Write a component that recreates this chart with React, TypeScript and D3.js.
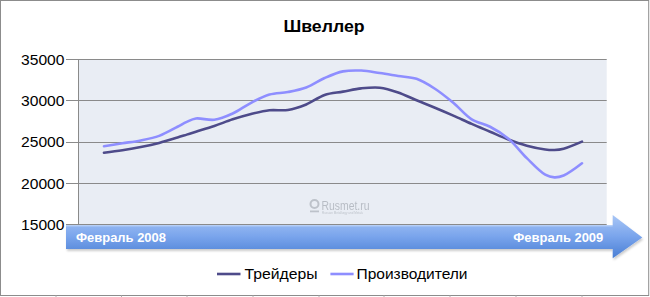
import React from "react";
import * as d3 from "d3";

const TITLE = "Швеллер";
const SERIES_NAMES = ["Трейдеры", "Производители"];
const X_LABELS = ["Февраль 2008", "Февраль 2009"];
const Y_TICKS = [15000, 20000, 25000, 30000, 35000];
// week index from Feb 2008 (0) to Feb 2009 (52)
const WEEKS = [0, 2, 4, 6, 8, 9, 10, 12, 14, 16, 18, 20, 22, 24, 26, 28, 30, 32, 34, 36, 38, 40, 42, 44, 46, 48, 49, 50, 52];
const TRADERS = [23660, 23950, 24350, 24850, 25500, 25850, 26200, 26900, 27700, 28350, 28800, 28830, 29500, 30650, 31050, 31450, 31530, 30950, 30000, 29100, 28150, 27150, 26200, 25250, 24500, 24050, 23990, 24150, 25000];
const PRODUCERS = [24450, 24800, 25150, 25700, 26800, 27400, 27800, 27650, 28400, 29700, 30700, 31000, 31550, 32700, 33500, 33600, 33300, 32950, 32600, 31400, 29700, 27700, 26800, 25350, 23000, 21000, 20680, 20900, 22380];

const COLORS = ["#4e4b8a", "#8e8eff"];
const BOTTOM_TICKS = [56, 121.5, 187, 253, 319, 384, 450, 516, 582];

export default function App() {
  const W = 650, H = 297;
  const plot = { l: 78, r: 606.7, t: 59, b: 224.3 };
  const x = d3.scaleLinear().domain([0, 52]).range([104, 582]);
  const y = d3.scaleLinear().domain([15000, 35000]).range([plot.b, plot.t]);
  const line = d3.line<number>()
    .x((_, i) => x(WEEKS[i]))
    .y((d) => y(d))
    .curve(d3.curveCatmullRom.alpha(0.5));
  const series = [TRADERS, PRODUCERS];

  // arrow geometry
  const ax0 = 66, ax1 = 612.7, tip = 642.3, bt = 225, bb = 249, ht = 215, hb = 258.3;
  const ym = (bt + bb) / 2 + 0.5;
  const arrowPath = `M${ax0},${bt} L${ax1},${bt} L${ax1},${ht} L${tip},${ym} L${ax1},${hb} L${ax1},${bb} L${ax0},${bb} Z`;

  return (
    <svg width={W} height={H} style={{ position: "absolute", left: 0, top: 0, fontFamily: "Liberation Sans, Arial, sans-serif" }}>
      <defs>
        <linearGradient id="ag" x1="0" y1="0" x2="0" y2="1">
          <stop offset="0" stopColor="#a8c6f6" />
          <stop offset="0.5" stopColor="#79a4ec" />
          <stop offset="1" stopColor="#4a7fd4" />
        </linearGradient>
        <filter id="sh" x="-5%" y="-20%" width="110%" height="160%">
          <feDropShadow dx="1" dy="2" stdDeviation="1.2" floodColor="#000" floodOpacity="0.2" />
        </filter>
      </defs>
      <rect x={0} y={0} width={W} height={H} fill="#fff" />
      <rect x={0.5} y={0.5} width={648.2} height={295} fill="#fff" stroke="#8c8c8c" />
      {BOTTOM_TICKS.map((t) => (
        <line key={t} x1={t} x2={t} y1={295.5} y2={297} stroke="#b0b0b0" />
      ))}
      <text x={324} y={32} textAnchor="middle" fontWeight="bold" fontSize={17} textLength={81} lengthAdjust="spacingAndGlyphs" fill="#000">{TITLE}</text>

      <rect x={plot.l} y={plot.t} width={plot.r - plot.l} height={plot.b - plot.t} fill="#e9edf4" />
      {Y_TICKS.map((v) => (
        <g key={v}>
          <line x1={66} x2={plot.r} y1={Math.round(y(v)) + 0.5} y2={Math.round(y(v)) + 0.5} stroke="#8a8a8a" strokeWidth={1} />
          <text x={64.5} y={y(v) + 5.6} textAnchor="end" fontSize={15.5} textLength={43.5} lengthAdjust="spacingAndGlyphs" fill="#000">{v}</text>
        </g>
      ))}
      <line x1={plot.l + 0.5} x2={plot.l + 0.5} y1={plot.t} y2={plot.b} stroke="#8a8a8a" />

      {/* watermark */}
      <g opacity={0.55}>
        <circle cx={314.5} cy={204} r={4} fill="none" stroke="#9aa0a8" strokeWidth={2} />
        <rect x={310} y={210.5} width={9} height={1.8} fill="#9aa0a8" />
        <text x={321.5} y={209.5} fontSize={12.5} textLength={48} lengthAdjust="spacingAndGlyphs" fill="#8f959e">Rusmet.ru</text>
        <text x={322} y={214} fontSize={3} fill="#9aa0a8">Russian Metallurgy and Metals</text>
      </g>

      {series.map((s, i) => (
        <path key={i} d={line(s) || ""} fill="none" stroke={COLORS[i]} strokeWidth={2.6} strokeLinejoin="round" strokeLinecap="round" />
      ))}

      <path d={arrowPath} fill="url(#ag)" filter="url(#sh)" />
      <line x1={ax0} x2={ax1} y1={bt + 0.8} y2={bt + 0.8} stroke="#c6dafa" strokeWidth={1} />
      <text x={76} y={242} fontSize={13} fontWeight="bold" fill="#fff" textLength={90} lengthAdjust="spacingAndGlyphs">{X_LABELS[0]}</text>
      <text x={603.3} y={242} fontSize={13} fontWeight="bold" fill="#fff" textAnchor="end" textLength={90} lengthAdjust="spacingAndGlyphs">{X_LABELS[1]}</text>

      {/* legend */}
      <line x1={217} x2={240.5} y1={274} y2={274} stroke={COLORS[0]} strokeWidth={2.6} />
      <text x={244.5} y={278.5} fontSize={14} textLength={73} lengthAdjust="spacingAndGlyphs" fill="#000">{SERIES_NAMES[0]}</text>
      <line x1={330.4} x2={353.6} y1={274} y2={274} stroke={COLORS[1]} strokeWidth={2.6} />
      <text x={356.5} y={278.5} fontSize={14} textLength={111} lengthAdjust="spacingAndGlyphs" fill="#000">{SERIES_NAMES[1]}</text>
    </svg>
  );
}
